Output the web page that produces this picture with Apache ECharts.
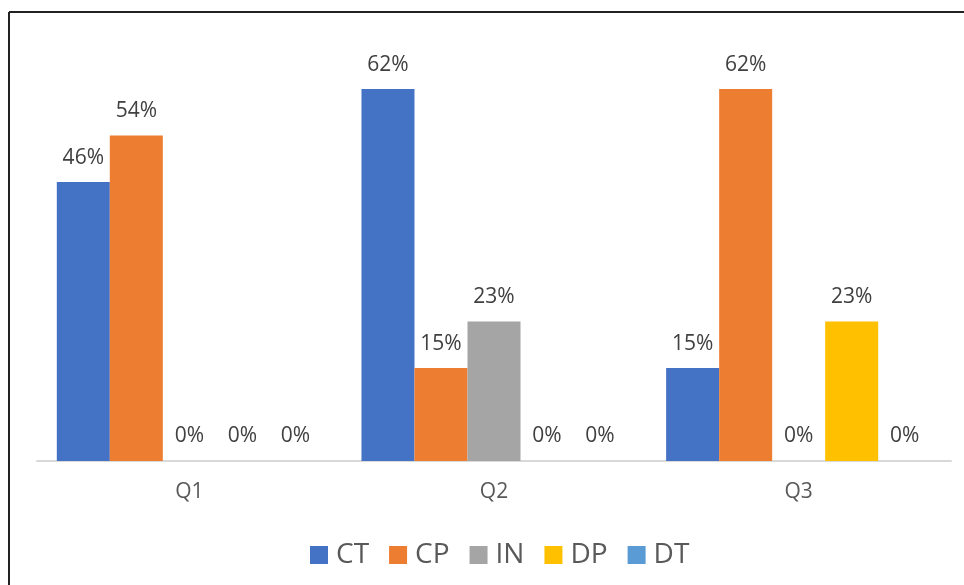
<!DOCTYPE html>
<html>
<head>
<meta charset="utf-8">
<script src="https://cdn.jsdelivr.net/npm/echarts@6/dist/echarts.min.js"></script>
<style>
  html, body { margin: 0; padding: 0; background: #fff; }
  #chart { width: 964px; height: 585px; }
</style>
</head>
<body>
<div id="chart"></div>
<script>
// 分类与数据
const quarters = ['Q1', 'Q2', 'Q3'];
const seriesNames = ['CT', 'CP', 'IN', 'DP', 'DT'];
const ctValues = [0.4615, 0.6154, 0.1538];
const cpValues = [0.5385, 0.1538, 0.6154];
const inValues = [0, 0.2308, 0];
const dpValues = [0, 0, 0.2308];
const dtValues = [0, 0, 0];
const seriesColors = ['#4472C4', '#ED7D31', '#A5A5A5', '#FFC000', '#5B9BD5'];

window.addEventListener('load', function () {
    let myChart = echarts.init(document.querySelector('#chart'));
    const allValues = [ctValues, cpValues, inValues, dpValues, dtValues];
    const font = '"Open Sans", "Noto Sans", sans-serif';

    let series = seriesNames.map(function (name, i) {
        return {
            name: name,
            type: 'bar',
            data: allValues[i],
            barGap: '0%',
            barCategoryGap: '13%',
            itemStyle: { color: seriesColors[i] },
            label: {
                show: true,
                position: 'top',
                distance: 14,
                color: '#404040',
                fontSize: 21,
                fontFamily: font,
                formatter: function (p) {
                    return Math.round(p.value * 100) + '%';
                }
            }
        };
    });

    let option = {
        backgroundColor: '#fff',
        animation: false,
        grid: { left: 37, right: 13, top: 38, bottom: 124 },
        legend: {
            data: seriesNames,
            left: 305,
            top: 536,
            itemWidth: 18,
            itemHeight: 18,
            itemGap: 20,
            icon: 'rect',
            textStyle: {
                color: '#595959',
                fontSize: 28,
                fontFamily: font,
                padding: [0, 0, 0, 3]
            }
        },
        xAxis: {
            type: 'category',
            data: quarters,
            axisLine: { lineStyle: { color: '#D9D9D9', width: 2 } },
            axisTick: { show: false },
            axisLabel: {
                color: '#595959',
                fontSize: 21,
                fontFamily: font,
                margin: 21
            }
        },
        yAxis: {
            type: 'value',
            min: 0,
            max: 0.7,
            show: false
        },
        graphic: [
            // 外框（上边和左边）
            { type: 'line', shape: { x1: 9, y1: 12, x2: 964, y2: 12 }, style: { stroke: '#222', lineWidth: 2 } },
            { type: 'line', shape: { x1: 9, y1: 12, x2: 9, y2: 585 }, style: { stroke: '#222', lineWidth: 2 } }
        ],
        series: series
    };

    myChart.setOption(option);
});
</script>
</body>
</html>
